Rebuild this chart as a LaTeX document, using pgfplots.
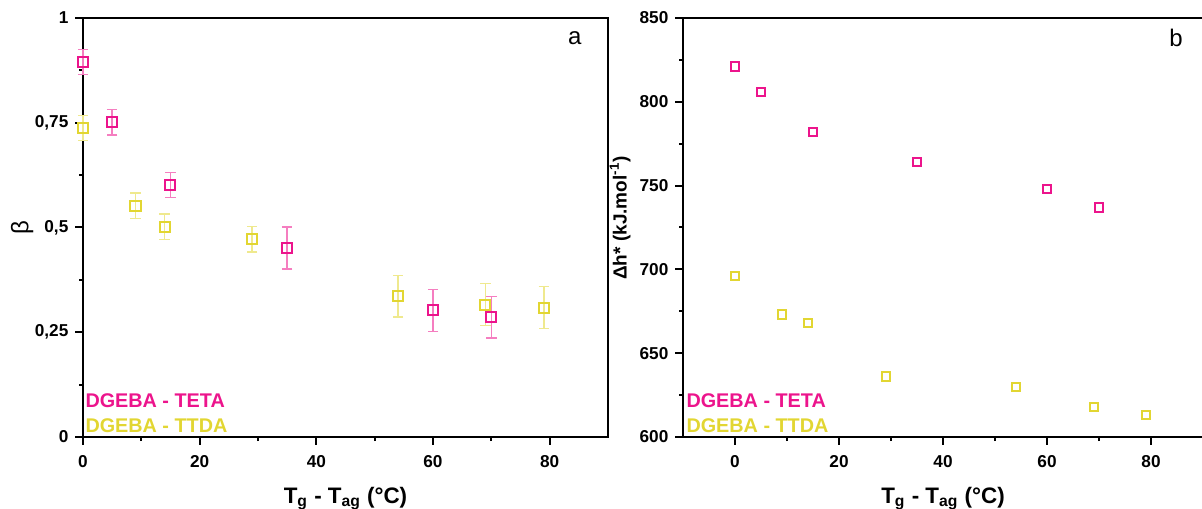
\documentclass[border=0pt]{standalone}
\usepackage{pgfplots}
\pgfplotsset{compat=1.18}
\usepackage{fontspec}
\setmainfont{Liberation Sans}
\definecolor{teta}{RGB}{236,20,140}
\definecolor{ttda}{RGB}{226,214,50}
\begin{document}
\begin{tikzpicture}[x=1pt,y=1pt]
\path[use as bounding box] (0,0) rectangle (601,254);
\pgfplotsset{
 common/.style={
  scale only axis, height=209.5pt,
  axis line style={line width=1.2pt},
  every tick/.style={black, line width=1pt},
  tick align=outside, major tick length=3.8pt, minor tick length=2pt,
  xtick pos=bottom, ytick pos=left,
  ticklabel style={font=\bfseries\fontsize{8.6}{10}\selectfont},
  xticklabel style={yshift=-2pt},
  /pgf/number format/assume math mode=true,
  xmax=90,
  xtick={0,20,40,60,80}, minor x tick num=1, minor y tick num=1,
  xlabel={\textbf{T\textsubscript{g} - T\textsubscript{ag} (°C)}},
  xlabel style={at={(axis description cs:0.5,0)}, anchor=base, yshift=-33pt, font=\fontsize{11.2}{13}\selectfont},
  clip=false,
 },
 tetaplot/.style={only marks, mark=square, mark size=#1, mark options={draw=teta, fill=white, line width=1pt}},
 ttdaplot/.style={only marks, mark=square, mark size=#1, mark options={draw=ttda, fill=white, line width=1pt}},
}
\begin{axis}[common, at={(41.5pt,35.5pt)}, anchor=south west, width=262.5pt,
  xmin=0, ymin=0, ymax=1,
  ytick={0,0.25,0.5,0.75,1}, yticklabels={0,{0,25},{0,5},{0,75},1},
  ylabel={β}, ylabel style={at={(axis description cs:-0.116,0.5)}, anchor=center, font=\fontsize{12}{14}\selectfont},
]
\addplot+[tetaplot=2.5pt,
  error bars/.cd, y dir=both, y explicit,
  error bar style={teta!55, line width=0.7pt},
  error mark options={rotate=90, mark size=2.6pt, teta!55, line width=0.7pt}]
coordinates {
(0,0.895) +- (0,0.03)
(5,0.751) +- (0,0.03)
(15,0.601) +- (0,0.03)
(35,0.451) +- (0,0.05)
(60,0.302) +- (0,0.05)
(70,0.286) +- (0,0.05)
};
\addplot+[ttdaplot=2.5pt,
  error bars/.cd, y dir=both, y explicit,
  error bar style={ttda!55, line width=0.7pt},
  error mark options={rotate=90, mark size=2.6pt, ttda!55, line width=0.7pt}]
coordinates {
(0,0.737) +- (0,0.03)
(9,0.552) +- (0,0.03)
(14,0.502) +- (0,0.03)
(29,0.472) +- (0,0.03)
(54,0.336) +- (0,0.05)
(69,0.316) +- (0,0.05)
(79,0.309) +- (0,0.05)
};
\node[anchor=west, inner sep=0pt, text=teta, font=\bfseries\fontsize{9.9}{12}\selectfont] at (rel axis cs:0.004,0.086) {DGEBA - TETA};
\node[anchor=west, inner sep=0pt, text=ttda, font=\bfseries\fontsize{9.9}{12}\selectfont] at (rel axis cs:0.004,0.026) {DGEBA - TTDA};
\node[font=\fontsize{12}{14}\selectfont] at (rel axis cs:0.937,0.953) {a};
\end{axis}
\begin{axis}[common, at={(341.5pt,35.5pt)}, anchor=south west, width=260pt,
  xmin=-10, ymin=600, ymax=850,
  ytick={600,650,700,750,800,850},
  ylabel={\textbf{Δh* (kJ.mol\textsuperscript{-1})}}, ylabel style={at={(axis description cs:-0.121,0.523)}, anchor=center, font=\fontsize{9.5}{11}\selectfont},
]
\addplot+[tetaplot=2.1pt] coordinates {
(0,821) (5,806) (15,782) (35,764) (60,748) (70,737)
};
\addplot+[ttdaplot=2.1pt] coordinates {
(0,696) (9,673) (14,668) (29,636) (54,630) (69,618) (79,613)
};
\node[anchor=west, inner sep=0pt, text=teta, font=\bfseries\fontsize{9.9}{12}\selectfont] at (rel axis cs:0.006,0.086) {DGEBA - TETA};
\node[anchor=west, inner sep=0pt, text=ttda, font=\bfseries\fontsize{9.9}{12}\selectfont] at (rel axis cs:0.006,0.026) {DGEBA - TTDA};
\node[font=\fontsize{12}{14}\selectfont] at (rel axis cs:0.948,0.953) {b};
\end{axis}
\end{tikzpicture}
\end{document}
